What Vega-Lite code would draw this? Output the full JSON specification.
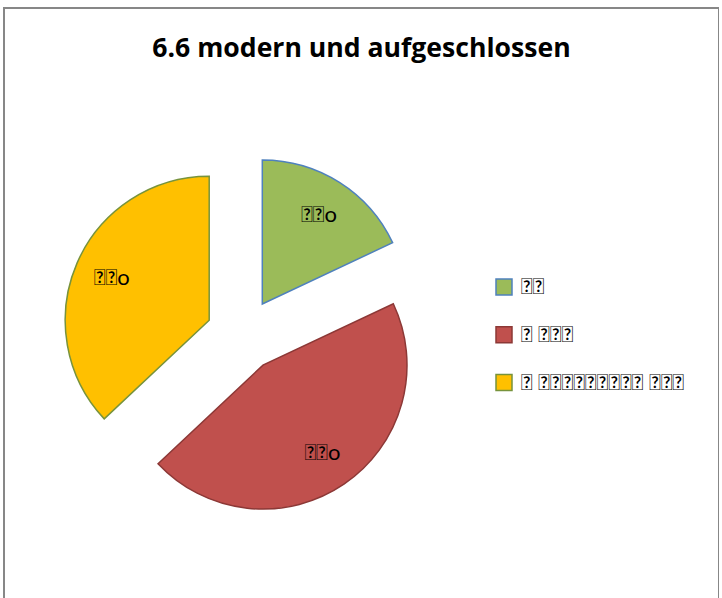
{
  "$schema": "https://vega.github.io/schema/vega-lite/v6.json",
  "width": 715,
  "height": 600,
  "autosize": "none",
  "padding": {"left": 4, "top": 8, "right": 0, "bottom": 0},
  "background": "white",
  "view": {"stroke": "#878787", "strokeWidth": 2},
  "config": {
    "view": {"stroke": "#878787", "strokeWidth": 2},
    "font": "Lato"
  },
  "title": {
    "text": "6.6 modern und aufgeschlossen",
    "font": "Open Sans",
    "fontSize": 26.6,
    "fontWeight": "bold",
    "color": "#000000",
    "anchor": "middle",
    "frame": "group",
    "baseline": "alphabetic",
    "offset": -49,
    "dy": 27
  },
  "data": {
    "values": [
      {"k": 1, "cat": "\uE000\uE000", "v": 18, "lab": "\uE000\uE000o"},
      {"k": 2, "cat": "\uE000 \uE000\uE000\uE000", "v": 45, "lab": "\uE000\uE000o"},
      {"k": 3, "cat": "\uE000  \uE000\uE000\uE000\uE000\uE000\uE000\uE000\uE000\uE000 \uE000\uE000\uE000", "v": 37, "lab": "\uE000\uE000o"}
    ]
  },
  "encoding": {
    "theta": {"field": "v", "type": "quantitative", "stack": true, "scale": {"domain": [0, 100]}},
    "order": {"field": "k", "type": "quantitative"}
  },
  "layer": [
    {
      "mark": {"type": "arc", "radius": 144, "strokeWidth": 1.5, "xOffset": -99.2, "yOffset": -4},
      "encoding": {
        "color": {
          "field": "cat", "type": "nominal",
          "scale": {"domain": ["\uE000\uE000", "\uE000 \uE000\uE000\uE000", "\uE000  \uE000\uE000\uE000\uE000\uE000\uE000\uE000\uE000\uE000 \uE000\uE000\uE000"], "range": ["#9BBB59", "#C0504D", "#FFC000"]},
          "legend": {"orient": "none", "legendX": 489, "legendY": 268, "title": null, "symbolType": "square", "symbolSize": 256, "symbolStrokeWidth": 1.5, "labelFontSize": 22, "labelLimit": 400, "labelColor": "#000000", "labelOffset": 6, "rowPadding": 25.8, "symbolOpacity": 1}
        },
        "stroke": {
          "field": "cat", "type": "nominal",
          "scale": {"domain": ["\uE000\uE000", "\uE000 \uE000\uE000\uE000", "\uE000  \uE000\uE000\uE000\uE000\uE000\uE000\uE000\uE000\uE000 \uE000\uE000\uE000"], "range": ["#4F81BD", "#8C3836", "#77933C"]},
          "legend": {"orient": "none", "legendX": 489, "legendY": 268, "title": null, "symbolType": "square", "symbolSize": 256, "symbolStrokeWidth": 1.5, "labelFontSize": 22, "labelLimit": 400, "labelColor": "#000000", "labelOffset": 6, "rowPadding": 25.8, "symbolOpacity": 1}
        },
        "opacity": {"condition": {"test": "datum.k === 1", "value": 1}, "value": 0}
      }
    },
    {
      "mark": {"type": "arc", "radius": 144, "strokeWidth": 1.5, "xOffset": -98.5, "yOffset": 57.1},
      "encoding": {
        "color": {"field": "cat", "type": "nominal"},
        "stroke": {"field": "cat", "type": "nominal"},
        "opacity": {"condition": {"test": "datum.k === 2", "value": 1}, "value": 0}
      }
    },
    {
      "mark": {"type": "arc", "radius": 144, "strokeWidth": 1.5, "xOffset": -152.3, "yOffset": 12.3},
      "encoding": {
        "color": {"field": "cat", "type": "nominal"},
        "stroke": {"field": "cat", "type": "nominal"},
        "opacity": {"condition": {"test": "datum.k === 3", "value": 1}, "value": 0}
      }
    },
    {
      "mark": {"type": "text", "radius": 106, "fontSize": 22, "color": "#000000", "xOffset": -99.2, "yOffset": -4},
      "encoding": {
        "text": {"field": "lab"},
        "opacity": {"condition": {"test": "datum.k === 1", "value": 1}, "value": 0}
      }
    },
    {
      "mark": {"type": "text", "radius": 106, "fontSize": 22, "color": "#000000", "xOffset": -98.5, "yOffset": 57.1},
      "encoding": {
        "text": {"field": "lab"},
        "opacity": {"condition": {"test": "datum.k === 2", "value": 1}, "value": 0}
      }
    },
    {
      "mark": {"type": "text", "radius": 106, "fontSize": 22, "color": "#000000", "xOffset": -152.3, "yOffset": 12.3},
      "encoding": {
        "text": {"field": "lab"},
        "opacity": {"condition": {"test": "datum.k === 3", "value": 1}, "value": 0}
      }
    }
  ]
}
